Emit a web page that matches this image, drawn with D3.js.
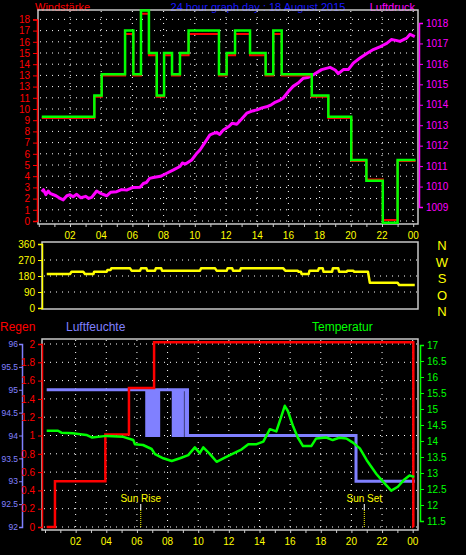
<!DOCTYPE html>
<html>
<head>
<meta charset="utf-8">
<script src="https://cdn.jsdelivr.net/npm/d3@7/dist/d3.min.js"></script>
<style>
  body { margin: 0; background: #000; }
  svg { display: block; font-family: 'Liberation Sans', Arial, sans-serif; }
</style>
</head>
<body>
<svg id="chart" width="466" height="555"></svg>
<script>
// hour tick labels
var hourLabels = ['02', '04', '06', '08', '10', '12', '14', '16', '18', '20', '22', '00'];

// top panel: wind (gust green, mean red), pressure
var windLabels = ['0', '1', '2', '3', '4', '5', '6', '7', '8', '9', '10', '11', '13', '13', '14', '15', '16', '17', '18'];
var windGust = [[0.19, 9.3], [3.56, 11.2], [4.03, 13.1], [5.53, 17.0], [6.06, 13.1], [6.55, 18.8], [7.06, 15.0],
  [7.56, 11.2], [8.03, 15.0], [8.54, 13.1], [9.05, 15.0], [9.6, 17.0], [11.55, 13.1], [12.04, 15.0], [12.58, 17.0],
  [13.54, 15.0], [14.54, 13.1], [15.03, 17.0], [15.57, 13.1], [17.5, 11.2], [18.56, 9.3], [20.03, 5.45],
  [21.0, 3.6], [22.05, -0.15], [23.0, 5.45], [24.15, 5.45]];
var windMean = [[0.19, 9.2], [3.56, 11.1], [4.03, 13.0], [5.53, 16.7], [6.06, 13.0], [6.55, 18.5], [7.06, 14.8],
  [7.56, 11.1], [8.03, 14.8], [8.54, 13.0], [9.05, 14.8], [9.6, 16.7], [11.55, 13.0], [12.04, 14.8], [12.58, 16.7],
  [13.54, 14.8], [14.54, 13.0], [15.03, 16.7], [15.57, 13.0], [17.5, 11.1], [18.56, 9.2], [20.03, 7.0],
  [20.05, 5.35], [21.0, 3.7], [22.05, 0.1], [23.0, 5.35], [24.15, 5.35]];
var pressureTicks = [1009, 1010, 1011, 1012, 1013, 1014, 1015, 1016, 1017, 1018];
var pressure = [[0.19, 1009.75], [0.3, 1009.85], [0.45, 1009.6], [0.6, 1009.78], [0.72, 1009.67], [1.1, 1009.55],
  [1.3, 1009.45], [1.57, 1009.35], [1.8, 1009.55], [2.0, 1009.6], [2.2, 1009.5], [2.43, 1009.62], [2.7, 1009.45],
  [3.0, 1009.52], [3.2, 1009.42], [3.39, 1009.47], [3.71, 1009.78], [4.0, 1009.65], [4.35, 1009.55], [4.6, 1009.72],
  [4.99, 1009.75], [5.3, 1009.85], [5.63, 1009.83], [6.0, 1009.95], [6.49, 1009.97], [6.7, 1010.15], [6.9, 1010.2],
  [7.1, 1010.4], [7.34, 1010.44], [7.8, 1010.5], [8.2, 1010.65], [8.6, 1010.8], [9.05, 1010.98], [9.2, 1011.15],
  [9.4, 1011.1], [9.8, 1011.3], [10.1, 1011.6], [10.33, 1011.79], [10.6, 1012.1], [10.97, 1012.53], [11.2, 1012.6],
  [11.4, 1012.65], [11.6, 1012.55], [11.83, 1012.77], [12.2, 1012.95], [12.4, 1013.1], [12.69, 1013.05],
  [13.0, 1013.3], [13.33, 1013.59], [13.7, 1013.7], [14.0, 1013.75], [14.3, 1013.85], [14.6, 1013.9],
  [14.9, 1014.0], [15.1, 1014.1], [15.4, 1014.2], [15.67, 1014.33], [16.0, 1014.65], [16.3, 1014.9],
  [16.6, 1015.05], [16.96, 1015.3], [17.3, 1015.35], [17.6, 1015.47], [18.13, 1015.72], [18.67, 1015.83],
  [19.0, 1015.7], [19.2, 1015.52], [19.52, 1015.72], [19.84, 1015.72], [20.16, 1016.04], [20.59, 1016.29],
  [21.0, 1016.5], [21.44, 1016.7], [21.9, 1016.85], [22.3, 1017.0], [22.6, 1017.19], [22.9, 1017.15],
  [23.15, 1017.1], [23.58, 1017.26], [23.8, 1017.45], [24.1, 1017.33]];

// middle panel: wind direction
var dirTicks = [0, 90, 180, 270, 360];
var compass = ['N', 'W', 'S', 'O', 'N'];
var direction = [[0.51, 191], [2.0, 191], [2.1, 204], [2.85, 204], [2.96, 191], [3.5, 191], [3.55, 204], [4.35, 204],
  [4.4, 214], [4.6, 214], [4.65, 223], [5.85, 223], [5.95, 210], [6.49, 210], [6.55, 223], [6.9, 223], [6.95, 210],
  [7.45, 210], [7.5, 223], [7.85, 223], [7.9, 210], [10.33, 210], [10.4, 223], [11.3, 223], [11.4, 210],
  [12.05, 210], [12.1, 223], [12.4, 223], [12.45, 210], [12.9, 210], [12.95, 223], [15.67, 223], [15.8, 210],
  [16.6, 210], [16.65, 204], [16.8, 204], [16.85, 191], [17.3, 191], [17.35, 210], [17.9, 210], [17.95, 223],
  [18.2, 223], [18.25, 204], [18.8, 204], [18.85, 223], [19.2, 223], [19.25, 204], [19.73, 204], [19.78, 210],
  [20.16, 210], [20.2, 204], [21.1, 204], [21.22, 142], [23.0, 142], [23.1, 129], [24.1, 129]];

// bottom panel: rain, humidity, temperature
var rainTicks = [0, 0.2, 0.4, 0.6, 0.8, 1, 1.2, 1.4, 1.6, 1.8, 2];
var humTicks = [92, 92.5, 93, 93.5, 94, 94.5, 95, 95.5, 96];
var tempTicks = [11.5, 12, 12.5, 13, 13.5, 14, 14.5, 15, 15.5, 16, 16.5, 17];
var rain = [[0.11, 0], [0.65, 0.5], [3.94, 1.01], [5.48, 1.52], [7.12, 2.02], [24.04, 0], [24.05, 0]];
var humidity = [[0.11, 95], [6.64, 94], [6.69, 95], [6.72, 94], [6.77, 95], [6.80, 94], [6.85, 95], [6.88, 94],
  [6.93, 95], [6.96, 94], [7.01, 95], [7.04, 94], [7.09, 95], [7.12, 94], [7.17, 95], [7.20, 94], [7.25, 95],
  [7.28, 94], [7.33, 95], [7.36, 94], [7.42, 95], [8.37, 94], [8.42, 95], [8.55, 94], [8.6, 95], [8.72, 94],
  [8.77, 95], [8.92, 94], [8.97, 95], [9.2, 94], [9.25, 95], [9.3, 94], [20.3, 93], [24.15, 93]];
var temperature = [[0.11, 14.32], [0.85, 14.32], [1.07, 14.26], [1.8, 14.24], [2.7, 14.19], [3.05, 14.11],
  [4.02, 14.16], [5.11, 14.13], [5.76, 14.03], [5.87, 13.9], [6.4, 13.875], [6.96, 13.75], [7.18, 13.59],
  [7.72, 13.46], [8.27, 13.375], [8.81, 13.46], [9.35, 13.56], [9.78, 13.8], [10.1, 13.62], [10.33, 13.8],
  [10.77, 13.59], [11.2, 13.35], [11.64, 13.46], [12.07, 13.56], [12.84, 13.74], [13.27, 13.9], [13.81, 13.9],
  [14.25, 13.98], [14.68, 14.37], [15.1, 14.3], [15.43, 14.78], [15.65, 15.1], [15.86, 14.93], [16.2, 14.45],
  [16.5, 14.11], [16.84, 13.84], [17.38, 13.84], [17.7, 14.08], [18.36, 14.11], [18.78, 14.03], [19.2, 14.1],
  [19.67, 14.08], [20.1, 13.95], [20.55, 13.77], [21.0, 13.4], [21.63, 12.97], [22.06, 12.73], [22.6, 12.45],
  [23.03, 12.57], [23.46, 12.8], [23.79, 12.92], [24.1, 12.88]];
var sunEvents = [{label: 'Sun Rise', h: 6.25}, {label: 'Sun Set', h: 20.84}];

var svg = d3.select('#chart');
var hours = d3.range(0, 25);
var evenHours = d3.range(2, 25, 2);

function text(x, y, s, color, anchor, size) {
  return svg.append('text').attr('x', x).attr('y', y).attr('fill', color)
    .attr('font-size', size || 11).attr('text-anchor', anchor || 'start').text(s);
}

function frame(x0, x1, y0, y1) {
  svg.append('rect').attr('x', x0).attr('y', y0).attr('width', x1 - x0).attr('height', y1 - y0)
    .attr('fill', 'none').attr('stroke', '#c8c8c8').attr('stroke-width', 1.5);
}

function hGrid(x0, x1, ys) {
  svg.append('g').selectAll('line').data(ys).join('line')
    .attr('x1', x0).attr('x2', x1).attr('y1', function (d) { return d; }).attr('y2', function (d) { return d; })
    .attr('stroke', '#fff').attr('stroke-dasharray', '1,5');
}

function vGrid(y0, y1, xs) {
  svg.append('g').selectAll('line').data(xs).join('line')
    .attr('y1', y0).attr('y2', y1).attr('x1', function (d) { return d; }).attr('x2', function (d) { return d; })
    .attr('stroke', '#fff').attr('stroke-dasharray', '1,5');
}

function vAxis(x, scale, ticks, labels, color, side, fmt, size) {
  var g = svg.append('g').attr('transform', 'translate(' + x + ',0)');
  var axis = (side === 'left' ? d3.axisLeft(scale) : d3.axisRight(scale))
    .tickValues(ticks).tickSize(size ? 3 : 4).tickPadding(size ? 1 : 3)
    .tickFormat(function (d, i) { return labels ? labels[i] : (fmt ? fmt(d) : d); });
  g.call(axis);
  g.select('.domain').attr('stroke', color).attr('stroke-width', 1.5);
  g.selectAll('line').attr('stroke', color);
  g.selectAll('text').attr('fill', color).attr('font-size', size || 10).attr('font-family', 'Liberation Sans, Arial');
  return g;
}

function hourAxis(scale, y, labelY) {
  var g = svg.append('g').attr('transform', 'translate(0,' + y + ')');
  g.call(d3.axisBottom(scale).tickValues(hours).tickSize(3).tickFormat(''));
  g.select('.domain').remove();
  g.selectAll('line').attr('stroke', '#ccc');
  svg.append('g').selectAll('text').data(evenHours).join('text')
    .attr('x', function (d) { return scale(d); }).attr('y', labelY)
    .attr('text-anchor', 'middle').attr('fill', '#ffff00').attr('font-size', 10)
    .text(function (d, i) { return hourLabels[i]; });
}

function stepLine(data, x, y, color, width) {
  svg.append('path').datum(data)
    .attr('d', d3.line().x(function (d) { return x(d[0]); }).y(function (d) { return y(d[1]); }).curve(d3.curveStepAfter))
    .attr('fill', 'none').attr('stroke', color).attr('stroke-width', width);
}

function plainLine(data, x, y, color, width) {
  svg.append('path').datum(data)
    .attr('d', d3.line().x(function (d) { return x(d[0]); }).y(function (d) { return y(d[1]); }))
    .attr('fill', 'none').attr('stroke', color).attr('stroke-width', width).attr('stroke-linejoin', 'round');
}

// ---- top panel ----
var xTop = d3.scaleLinear().domain([0, 24]).range([38.8, 413.2]);
var yWind = d3.scaleLinear().domain([0, 18]).range([221, 19.4]);
var yPress = d3.scaleLinear().domain([1009, 1018]).range([207, 23]);

text(35, 11, 'Windstärke', '#ff0000');
text(258, 11, '24 hour graph day : 18 August 2015', '#1a1aff', 'middle');
text(415, 11, 'Luftdruck', '#ff00ff', 'end');

hGrid(40, 417, d3.range(0, 19).map(yWind));
vGrid(11, 223, evenHours.map(xTop));
frame(38, 418, 10, 224);
vAxis(37, yWind, d3.range(0, 19), windLabels, '#ff0000', 'left');
vAxis(419, yPress, pressureTicks, null, '#ff00ff', 'right');
hourAxis(xTop, 224, 239);

plainLine(pressure, xTop, yPress, '#ff00ff', 3);
stepLine(windMean, xTop, yWind, '#ff0000', 2);
stepLine(windGust, xTop, yWind, '#00ff00', 2.5);

// ---- middle panel ----
var xMid = d3.scaleLinear().domain([0, 24]).range([38.8, 413.2]);
var yDir = d3.scaleLinear().domain([0, 360]).range([308, 244]);
hGrid(44, 417, dirTicks.slice(1, 4).map(yDir));
frame(42, 418, 242, 309);
vAxis(42, yDir, dirTicks, null, '#ffff00', 'left');
plainLine(direction, xMid, yDir, '#ffff00', 2.5);
svg.append('g').selectAll('text').data(compass).join('text')
  .attr('x', 442).attr('y', function (d, i) { return 250 + i * 16.5; })
  .attr('text-anchor', 'middle').attr('fill', '#ffff00').attr('font-size', 13)
  .text(function (d) { return d; });

// ---- bottom panel ----
var xBot = d3.scaleLinear().domain([0, 24]).range([45, 412.7]);
var yRain = d3.scaleLinear().domain([0, 2]).range([527, 344]);
var yHum = d3.scaleLinear().domain([92, 96]).range([527, 344]);
var yTemp = d3.scaleLinear().domain([11.5, 17]).range([521, 345]);

text(0, 331, 'Regen', '#ff0000', 'start', 12);
text(66, 331, 'Luftfeuchte', '#8080ff', 'start', 12);
text(312, 331, 'Temperatur', '#00ff00', 'start', 12);

hGrid(44, 417, rainTicks.map(yRain));
vGrid(340, 529, evenHours.map(xBot));
frame(42, 418, 339, 530);
vAxis(22, yHum, humTicks, null, '#8080ff', 'left', null, 8.5);
vAxis(42, yRain, rainTicks, null, '#ff0000', 'left', function (d) { return d3.format('')(+d.toFixed(1)); });
vAxis(420, yTemp, tempTicks, null, '#00ff00', 'right');
hourAxis(xBot, 530, 545);

sunEvents.forEach(function (s) {
  var x = xBot(s.h);
  text(x, 502, s.label, '#ffff00', 'middle', 10);
  svg.append('line').attr('x1', x).attr('x2', x).attr('y1', 504).attr('y2', 510).attr('stroke', '#fff');
  svg.append('line').attr('x1', x).attr('x2', x).attr('y1', 510).attr('y2', 528)
    .attr('stroke', '#ffff00').attr('stroke-dasharray', '1,1');
});

stepLine(humidity, xBot, yHum, '#8080ff', 3);
stepLine(rain, xBot, yRain, '#ff0000', 2.5);
plainLine(temperature, xBot, yTemp, '#00ff00', 2.5);
</script>
</body>
</html>
